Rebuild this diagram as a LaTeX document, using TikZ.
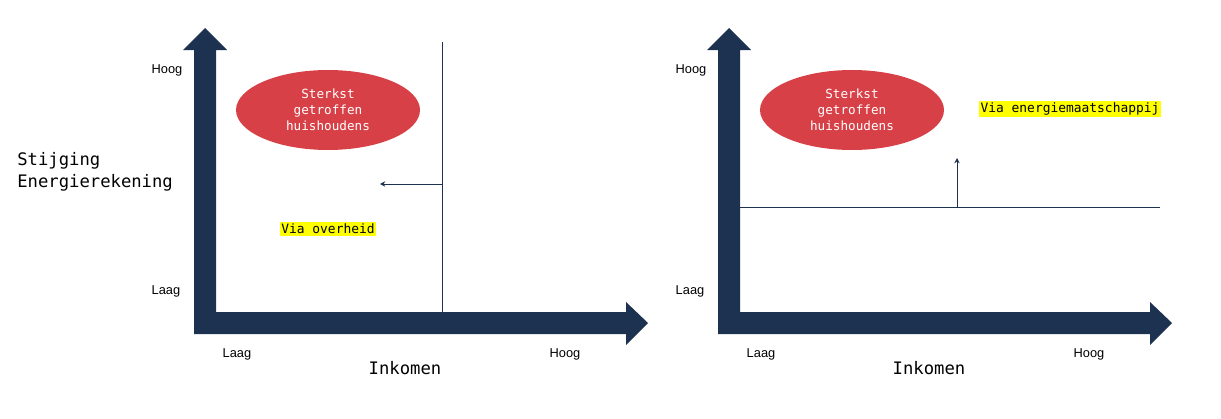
\documentclass[tikz,border=0pt]{standalone}
\usepackage{fontspec}
\setmonofont{DejaVu Sans Mono}
\setsansfont{Liberation Sans}
\usetikzlibrary{arrows.meta,positioning,shapes.geometric}
\definecolor{Navy}{HTML}{1D3150}
\definecolor{Rood}{HTML}{D84047}
\definecolor{Geel}{HTML}{FFFF00}

\begin{document}
\begin{tikzpicture}[x=0.02cm,y=-0.02cm,
    as/.style={fill=Navy,draw=none},
    lijn/.style={draw=Navy,line width=0.55pt},
    pijl/.style={lijn,-{Stealth[length=3pt,width=3pt]}},
    groep/.style={ellipse,fill=Rood,text=white,minimum width=3.68cm,minimum height=1.6cm,inner sep=0pt,align=center,font=\ttfamily\fontsize{7.2}{9.1}\selectfont},
    schaal/.style={font=\sffamily\fontsize{7.3}{9}\selectfont,inner sep=0pt},
    titel/.style={font=\ttfamily\fontsize{9.8}{12.5}\selectfont,inner sep=0pt,align=left},
    markering/.style={fill=Geel,font=\ttfamily\fontsize{7.35}{9}\selectfont,inner sep=1pt}
  ]
    \useasboundingbox (0,0) rectangle (1221,419);
    % assen van beide grafieken
    \foreach \dx/\k in {0/l,524/r}{
      \fill[as] (194+\dx,334) -- (194+\dx,50) -- (183+\dx,50) -- (205+\dx,28) -- (227+\dx,50) -- (216+\dx,50) -- (216+\dx,334) -- cycle;
      \fill[as] (216+\dx,312) -- (626+\dx,312) -- (626+\dx,302) -- (648+\dx,323) -- (626+\dx,345) -- (626+\dx,334) -- (216+\dx,334) -- cycle;
      \node[schaal] (yhoog-\k) at (167+\dx,70) {Hoog};
      \node[schaal] (ylaag-\k) at (166+\dx,291) {Laag};
      \node[schaal] (xlaag-\k) at (237+\dx,354) {Laag};
      \node[schaal] (xhoog-\k) at (565+\dx,354) {Hoog};
      \node[titel] (inkomen-\k) at (405+\dx,368) {Inkomen};
    }
    \node[titel,anchor=west] (stijging) at (17,172) {Stijging\\Energierekening};
    % links: via overheid
    \node[groep] (sterkst-l) at (328,110) {Sterkst\\getroffen\\huishoudens};
    \coordinate (grens-top) at (442,42);
    \coordinate (grens-voet) at (442,312);
    \coordinate (grens-mid) at (442,184);
    \coordinate (grens-pijl) at (380,184);
    \draw[lijn] (grens-top) -- (grens-voet);
    \draw[pijl] (grens-mid) -- (grens-pijl);
    \node[markering] (overheid) at (328,229) {Via overheid};
    % rechts: via energiemaatschappij
    \node[groep] (sterkst-r) at (852,110) {Sterkst\\getroffen\\huishoudens};
    \coordinate (niveau-begin) at (740,207);
    \coordinate (niveau-eind) at (1160,207);
    \coordinate (niveau-mid) at (957,207);
    \coordinate (niveau-pijl) at (957,158);
    \draw[lijn] (niveau-begin) -- (niveau-eind);
    \draw[pijl] (niveau-mid) -- (niveau-pijl);
    \node[markering] (maatschappij) at (1070,109) {Via energiemaatschappij};
  \end{tikzpicture}
\end{document}
